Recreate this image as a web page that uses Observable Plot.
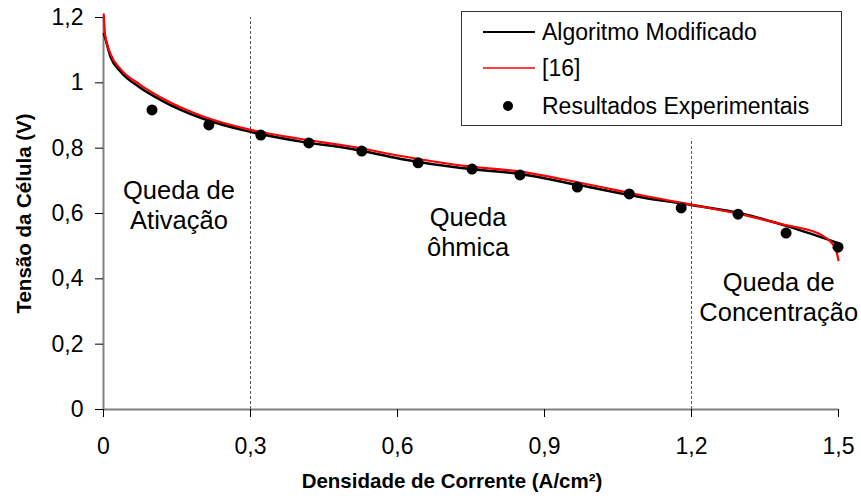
<!DOCTYPE html>
<html>
<head>
<meta charset="utf-8">
<script src="https://cdn.jsdelivr.net/npm/d3@7"></script>
<script src="https://cdn.jsdelivr.net/npm/@observablehq/plot@0.6"></script>
<style>
  html, body { margin: 0; padding: 0; background: #fff; }
  #wrap { position: relative; width: 861px; height: 499px; font-family: "Liberation Sans", Arial, sans-serif; }
  #legend { position: absolute; left: 461px; top: 11px; width: 381px; height: 115px; border: 1px solid #333; background: #fff; box-sizing: border-box; }
</style>
</head>
<body>
<div id="wrap"></div>
<script>
// Current density (A/cm²) and cell voltage (V)
const modX = [0.001, 0.003, 0.015, 0.035, 0.075, 0.116, 0.198, 0.3, 0.403, 0.505, 0.607, 0.73, 0.85, 0.97, 1.1, 1.2, 1.3, 1.4, 1.5];
const modY = [1.15, 1.14, 1.077, 1.034, 0.985, 0.948, 0.893, 0.85, 0.82, 0.798, 0.767, 0.739, 0.721, 0.687, 0.649, 0.626, 0.601, 0.559, 0.509];

const refX = [0.0005, 0.003, 0.015, 0.035, 0.075, 0.116, 0.198, 0.3, 0.403, 0.505, 0.607, 0.73, 0.85, 0.97, 1.1, 1.2, 1.3, 1.4, 1.424, 1.465, 1.485, 1.495, 1.5];
const refY = [1.21, 1.15, 1.086, 1.042, 0.994, 0.956, 0.9, 0.856, 0.828, 0.805, 0.776, 0.747, 0.728, 0.695, 0.655, 0.627, 0.598, 0.562, 0.555, 0.534, 0.512, 0.488, 0.457];

const expX = [0.099, 0.215, 0.321, 0.419, 0.527, 0.642, 0.752, 0.850, 0.967, 1.073, 1.179, 1.295, 1.393, 1.499];
const expY = [0.917, 0.871, 0.840, 0.816, 0.791, 0.755, 0.736, 0.718, 0.681, 0.660, 0.617, 0.598, 0.540, 0.497];

const xTicks = [0, 0.3, 0.6, 0.9, 1.2, 1.5];
const yTicks = [0, 0.2, 0.4, 0.6, 0.8, 1.0, 1.2];

const regionX = [0.3, 1.2];
const regionTop = [1.2, 0.828];

const noteText = ["Queda de\nAtivação", "Queda\nôhmica", "Queda de\nConcentração"];
const noteX = [0.154, 0.744, 1.378];
const noteY = [0.629, 0.546, 0.347];

const legendLabels = ["Algoritmo Modificado", "[16]", "Resultados Experimentais"];

const fmt = d => String(+d.toFixed(1)).replace(".", ",");

const modData = modX.map((x, i) => ({x, y: modY[i]}));
const refData = refX.map((x, i) => ({x, y: refY[i]}));
const expData = expX.map((x, i) => ({x, y: expY[i]}));
const regions = regionX.map((x, i) => ({x, y1: 0, y2: regionTop[i]}));
const notes = noteText.map((t, i) => ({t, x: noteX[i], y: noteY[i]}));

const font = "'Liberation Sans', Arial, sans-serif";

const chart = Plot.plot({
  width: 861,
  height: 499,
  marginLeft: 103,
  marginRight: 23,
  marginTop: 17,
  marginBottom: 90,
  style: {fontFamily: font, color: "#000", background: "#fff", overflow: "visible"},
  x: {domain: [0, 1.5], axis: null},
  y: {domain: [0, 1.2], axis: null},
  marks: [
    Plot.ruleX(regions, {x: "x", y1: "y1", y2: "y2", stroke: "#555", strokeWidth: 1, strokeDasharray: "3,2"}),
    Plot.ruleX([0], {y1: 0, y2: 1.2, stroke: "#808080", strokeWidth: 2}),
    Plot.ruleY([0], {x1: 0, x2: 1.5, stroke: "#808080", strokeWidth: 2}),
    Plot.axisY({ticks: yTicks, tickFormat: fmt, tickSize: 8, tickPadding: 12, fontSize: 23, stroke: "#000", label: null}),
    Plot.axisX({ticks: xTicks, tickFormat: fmt, tickSize: 8, tickPadding: 20, fontSize: 23, stroke: "#000", label: null}),
    Plot.line(modData, {x: "x", y: "y", stroke: "#000", strokeWidth: 2.5, curve: "monotone-x"}),
    Plot.line(refData, {x: "x", y: "y", stroke: "#ff0000", strokeWidth: 2.2, curve: "monotone-x"}),
    Plot.dot(expData, {x: "x", y: "y", r: 5.5, fill: "#000", stroke: "none"}),
    Plot.text(notes, {x: "x", y: "y", text: "t", fontSize: 25.5, lineHeight: 1.18, textAnchor: "middle", fill: "#000"}),
    Plot.text(["Densidade de Corrente (A/cm²)"], {frameAnchor: "bottom", textAnchor: "middle", dx: -19, dy: 78, fontSize: 20.5, fontWeight: "bold", fill: "#000"}),
    Plot.text(["Tensão da Célula (V)"], {frameAnchor: "left", textAnchor: "middle", rotate: -90, dx: -79, fontSize: 20.5, fontWeight: "bold", fill: "#000"})
  ]
});

const wrap = document.getElementById("wrap");
wrap.appendChild(chart);

const legend = document.createElement("div");
legend.id = "legend";
const colors = ["#000", "#ff0000"];
const widths = [2, 1.5];
legend.innerHTML = `<svg width="379" height="113" style="display:block;font-family:${font.replace(/'/g, "&quot;")}">
  <line x1="21" x2="73" y1="20" y2="20" stroke="${colors[0]}" stroke-width="${widths[0]}"/>
  <text x="80" y="28" font-size="23">${legendLabels[0]}</text>
  <line x1="21" x2="73" y1="56" y2="56" stroke="${colors[1]}" stroke-width="${widths[1]}"/>
  <text x="80" y="64" font-size="23">${legendLabels[1]}</text>
  <circle cx="46" cy="94" r="5" fill="#000"/>
  <text x="80" y="102" font-size="23">${legendLabels[2]}</text>
</svg>`;
wrap.appendChild(legend);
</script>
</body>
</html>
